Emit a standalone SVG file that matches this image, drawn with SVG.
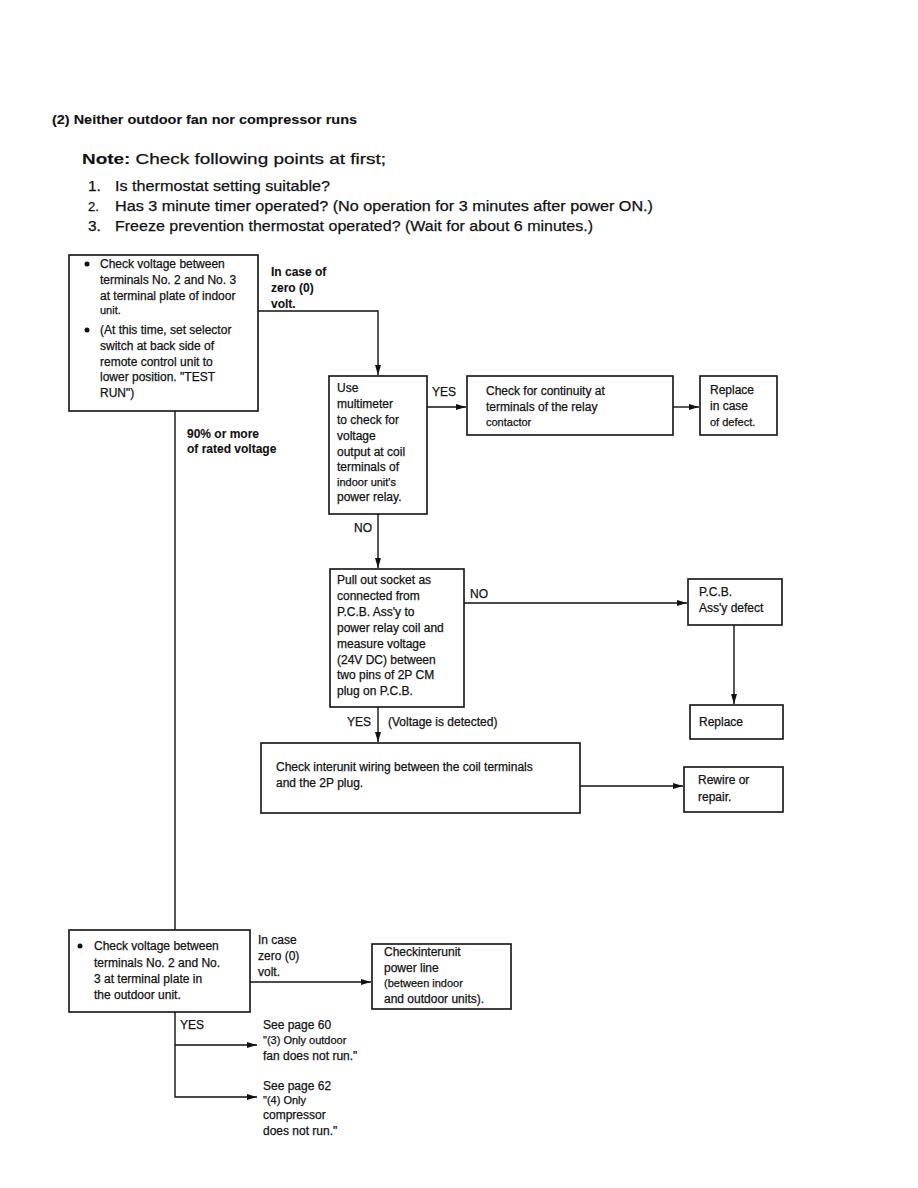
<svg xmlns="http://www.w3.org/2000/svg" width="918" height="1188" viewBox="0 0 918 1188">
<style>
.t{font-family:"Liberation Sans",Arial,sans-serif;font-size:12px;fill:#111;stroke:#111;stroke-width:0.25}
.s{font-size:11px}
.b{font-weight:bold;stroke-width:0.1}
.h{font-size:15.5px}
.box{fill:none;stroke:#111;stroke-width:1.6}
.c{fill:none;stroke:#111;stroke-width:1.4}
</style>
<defs>
<marker id="ar" viewBox="0 0 10 6" refX="10" refY="3" markerWidth="10" markerHeight="6" markerUnits="userSpaceOnUse" orient="auto">
<path d="M0,0 L10,3 L0,6 z" fill="#111"/>
</marker>
</defs>
<rect width="918" height="1188" fill="#fff"/>

<g id="header">
<text class="t b" x="52" y="124" font-size="13.5" textLength="305" lengthAdjust="spacingAndGlyphs">(2) Neither outdoor fan nor compressor runs</text>
<text class="t h" x="82" y="164" textLength="304" lengthAdjust="spacingAndGlyphs"><tspan class="b">Note:</tspan> Check following points at first;</text>
<text class="t h" x="88" y="191">1.</text>
<text class="t h" x="115" y="191" textLength="215" lengthAdjust="spacingAndGlyphs">Is thermostat setting suitable?</text>
<text class="t" x="88" y="211" style="font-size:13px">2.</text>
<text class="t" x="115" y="211" style="font-size:14px" textLength="538" lengthAdjust="spacingAndGlyphs">Has 3 minute timer operated? (No operation for 3 minutes after power ON.)</text>
<text class="t h" x="88" y="231">3.</text>
<text class="t h" x="115" y="231" textLength="478" lengthAdjust="spacingAndGlyphs">Freeze prevention thermostat operated? (Wait for about 6 minutes.)</text>
</g>

<g id="connectors">
<polyline class="c" points="258,311 378,311 378,375" marker-end="url(#ar)"/>
<line class="c" x1="427" y1="407" x2="466" y2="407" marker-end="url(#ar)"/>
<line class="c" x1="673" y1="407" x2="699" y2="407" marker-end="url(#ar)"/>
<line class="c" x1="378" y1="514" x2="378" y2="568" marker-end="url(#ar)"/>
<line class="c" x1="464" y1="603" x2="687" y2="603" marker-end="url(#ar)"/>
<line class="c" x1="734" y1="625" x2="734" y2="704" marker-end="url(#ar)"/>
<line class="c" x1="378" y1="707" x2="378" y2="742" marker-end="url(#ar)"/>
<line class="c" x1="580" y1="786" x2="683" y2="786" marker-end="url(#ar)"/>
<line class="c" x1="175" y1="411" x2="175" y2="930"/>
<line class="c" x1="250" y1="982" x2="371" y2="982" marker-end="url(#ar)"/>
<polyline class="c" points="175,1012 175,1097 257,1097" stroke-width="1" marker-end="url(#ar)"/>
<line class="c" x1="175" y1="1045" x2="257" y2="1045" stroke-width="1.8" marker-end="url(#ar)"/>
</g>

<g id="labels">
<text class="t b" x="271" y="276">In case of</text>
<text class="t b" x="271" y="292">zero (0)</text>
<text class="t b" x="271" y="308">volt.</text>
<text class="t b" x="187" y="438">90% or more</text>
<text class="t b" x="187" y="453">of rated voltage</text>
<text class="t" x="432" y="396">YES</text>
<text class="t" x="354" y="532">NO</text>
<text class="t" x="470" y="598">NO</text>
<text class="t" x="347" y="726">YES</text>
<text class="t" x="388" y="726">(Voltage is detected)</text>
<text class="t" x="258" y="944">In case</text>
<text class="t" x="258" y="960">zero (0)</text>
<text class="t" x="258" y="976">volt.</text>
<text class="t" x="180" y="1029">YES</text>
<text class="t" x="263" y="1029">See page 60</text>
<text class="t s" x="263" y="1044">"(3) Only outdoor</text>
<text class="t" x="263" y="1060">fan does not run."</text>
<text class="t" x="263" y="1090">See page 62</text>
<text class="t s" x="263" y="1104">"(4) Only</text>
<text class="t" x="263" y="1119">compressor</text>
<text class="t" x="263" y="1135">does not run."</text>
</g>

<g id="nodeA">
<rect class="box" x="69" y="255" width="189" height="156"/>
<circle cx="87" cy="264" r="2.5" fill="#111"/>
<circle cx="87" cy="330" r="2.5" fill="#111"/>
<text class="t" x="100" y="268">Check voltage between</text>
<text class="t" x="100" y="284">terminals No. 2 and No. 3</text>
<text class="t" x="100" y="300">at terminal plate of indoor</text>
<text class="t s" x="100" y="314">unit.</text>
<text class="t" x="100" y="334">(At this time, set selector</text>
<text class="t" x="100" y="350">switch at back side of</text>
<text class="t" x="100" y="366">remote control unit to</text>
<text class="t" x="100" y="381">lower position. "TEST</text>
<text class="t" x="100" y="397">RUN")</text>
</g>

<g id="nodeB">
<rect class="box" x="329" y="376" width="98" height="138"/>
<text class="t" x="337" y="392">Use</text>
<text class="t" x="337" y="408">multimeter</text>
<text class="t" x="337" y="424">to check for</text>
<text class="t" x="337" y="440">voltage</text>
<text class="t" x="337" y="456">output at coil</text>
<text class="t" x="337" y="471">terminals of</text>
<text class="t s" x="337" y="486">indoor unit's</text>
<text class="t" x="337" y="501">power relay.</text>
</g>

<g id="nodeC">
<rect class="box" x="467" y="376" width="206" height="59"/>
<text class="t" x="486" y="395">Check for continuity at</text>
<text class="t" x="486" y="411">terminals of the relay</text>
<text class="t s" x="486" y="426">contactor</text>
</g>

<g id="nodeD">
<rect class="box" x="700" y="376" width="77" height="59"/>
<text class="t" x="710" y="394">Replace</text>
<text class="t" x="710" y="410">in case</text>
<text class="t s" x="710" y="426">of defect.</text>
</g>

<g id="nodeE">
<rect class="box" x="330" y="569" width="134" height="138"/>
<text class="t" x="337" y="584">Pull out socket as</text>
<text class="t" x="337" y="600">connected from</text>
<text class="t" x="337" y="616">P.C.B. Ass'y to</text>
<text class="t" x="337" y="632">power relay coil and</text>
<text class="t" x="337" y="648">measure voltage</text>
<text class="t" x="337" y="664">(24V DC) between</text>
<text class="t" x="337" y="679">two pins of 2P CM</text>
<text class="t" x="337" y="695">plug on P.C.B.</text>
</g>

<g id="nodeF">
<rect class="box" x="688" y="579" width="94" height="46"/>
<text class="t" x="699" y="596">P.C.B.</text>
<text class="t" x="699" y="612">Ass'y defect</text>
</g>

<g id="nodeReplace">
<rect class="box" x="690" y="705" width="93" height="34"/>
<text class="t" x="699" y="726">Replace</text>
</g>

<g id="nodeH">
<rect class="box" x="261" y="743" width="319" height="70"/>
<text class="t" x="276" y="771">Check interunit wiring between the coil terminals</text>
<text class="t" x="276" y="787">and the 2P plug.</text>
</g>

<g id="nodeRewire">
<rect class="box" x="684" y="767" width="99" height="45"/>
<text class="t" x="698" y="784">Rewire or</text>
<text class="t" x="698" y="801">repair.</text>
</g>

<g id="nodeG">
<rect class="box" x="69" y="930" width="181" height="82"/>
<circle cx="80" cy="946" r="2.5" fill="#111"/>
<text class="t" x="94" y="950">Check voltage between</text>
<text class="t" x="94" y="967">terminals No. 2 and No.</text>
<text class="t" x="94" y="983">3 at terminal plate in</text>
<text class="t" x="94" y="999">the outdoor unit.</text>
</g>

<g id="nodeI">
<rect class="box" x="372" y="944" width="139" height="65"/>
<text class="t" x="384" y="956">Checkinterunit</text>
<text class="t" x="384" y="972">power line</text>
<text class="t s" x="384" y="987">(between indoor</text>
<text class="t" x="384" y="1003">and outdoor units).</text>
</g>
</svg>
